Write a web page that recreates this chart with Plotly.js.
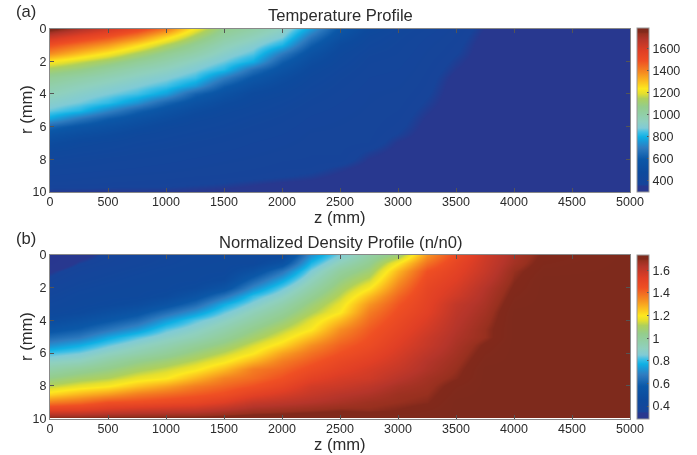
<!DOCTYPE html>
<html><head><meta charset="utf-8">
<script src="https://cdn.plot.ly/plotly-3.0.1.min.js"></script>
<style>html,body{margin:0;padding:0;background:#fff}#c{width:697px;height:455px;filter:blur(0.45px)}</style>
</head><body><div id="c"></div>
<script>
const zPositions=[0,250,500,750,1000,1250,1500,1750,2000,2250,2500,2750,3000,3250,3500,3750,4000,4250,5000];
const rPositions=[0,0.5,1,1.5,2,2.5,3,3.5,4,4.5,5,5.5,6,6.5,7,7.5,8,8.5,9,9.5,10];
const xTicks=[0,500,1000,1500,2000,2500,3000,3500,4000,4500,5000];
const yTicks=[0,2,4,6,8,10];
const tempTicks=[400,600,800,1000,1200,1400,1600];
const densTicks=[0.4,0.6,0.8,1,1.2,1.4,1.6];
const densTickText=['0.4','0.6','0.8','1','1.2','1.4','1.6'];
// each inner list: one z column, r = 0 ... 10
const tempColumns=[
[1790,1640,1500,1380,1230,1120,1040,990,950,905,860,775,630,545,490,445,420,400,385,370,345],
[1700,1560,1430,1300,1170,1080,1000,950,910,870,815,680,570,505,455,430,410,395,380,368,345],
[1620,1490,1360,1225,1110,1020,960,915,875,825,715,600,530,480,440,420,400,390,375,365,345],
[1540,1400,1260,1135,1040,970,920,880,840,745,620,540,490,445,425,408,395,385,372,363,346],
[1420,1270,1150,1050,985,930,885,840,770,630,545,495,450,430,415,400,390,380,370,362,346],
[1220,1130,1050,985,925,880,835,760,625,545,490,450,432,418,403,393,383,375,367,358,344],
[1060,1010,960,910,865,815,700,610,540,485,450,433,420,405,395,385,377,370,365,355,342],
[1000,950,900,850,790,660,580,520,470,447,430,415,403,393,385,378,372,367,362,350,340],
[930,880,810,690,610,550,500,470,445,425,412,400,392,385,378,372,367,363,358,345,338],
[760,680,610,540,495,460,440,425,412,400,390,382,377,372,370,367,365,362,353,343,336],
[575,530,480,450,435,420,408,400,392,385,380,376,373,371,369,367,365,352,345,340,335],
[470,440,425,408,398,391,385,380,376,374,372,370,369,368,366,354,347,342,339,336,333],
[420,410,402,396,390,385,380,376,372,369,366,363,360,355,347,343,340,338,336,334,332],
[395,385,378,373,369,366,363,361,358,354,350,346,343,341,339,337,336,335,334,333,332],
[370,365,361,357,352,348,343,340,339,338,337,336,335,335,334,334,333,333,332,332,332],
[347,343,340,339,338,337,336,336,335,335,334,334,334,333,333,333,332,332,332,332,331],
[335,335,334,334,334,333,333,333,333,333,332,332,332,332,332,332,331,331,331,331,331],
[332,332,332,332,332,332,331,331,331,331,331,331,331,331,331,331,331,331,331,331,331],
[330,330,330,330,330,330,330,330,330,330,330,330,330,330,330,330,330,330,330,330,330]
];
const densColumns=[
[.30,.31,.34,.36,.38,.40,.42,.44,.48,.55,.63,.72,.82,.90,.97,1.05,1.13,1.23,1.37,1.53,1.74],
[.33,.35,.37,.39,.41,.43,.44,.46,.52,.59,.67,.77,.85,.92,1.01,1.09,1.17,1.28,1.40,1.54,1.74],
[.36,.37,.39,.41,.43,.44,.455,.505,.57,.66,.76,.84,.91,.985,1.05,1.12,1.20,1.32,1.45,1.57,1.74],
[.38,.39,.41,.43,.44,.445,.48,.55,.63,.73,.83,.90,.96,1.04,1.10,1.17,1.26,1.37,1.46,1.59,1.74],
[.40,.41,.43,.44,.445,.47,.54,.64,.74,.83,.89,.95,1.01,1.08,1.14,1.20,1.31,1.40,1.48,1.60,1.74],
[.42,.43,.44,.445,.47,.54,.63,.73,.83,.89,.94,1.01,1.07,1.13,1.19,1.28,1.37,1.43,1.50,1.61,1.74],
[.43,.44,.445,.47,.54,.66,.77,.84,.90,.96,1.01,1.07,1.13,1.19,1.27,1.36,1.41,1.46,1.54,1.64,1.74],
[.44,.445,.52,.62,.71,.81,.87,.93,.98,1.04,1.09,1.15,1.20,1.28,1.37,1.40,1.45,1.52,1.60,1.67,1.74],
[.44,.53,.66,.76,.84,.90,.96,1.01,1.06,1.12,1.17,1.23,1.31,1.37,1.41,1.45,1.50,1.56,1.62,1.68,1.74],
[.72,.79,.86,.92,.97,1.02,1.07,1.11,1.16,1.20,1.27,1.34,1.39,1.43,1.47,1.52,1.57,1.60,1.64,1.69,1.74],
[.86,.93,1.00,1.05,1.09,1.13,1.17,1.20,1.27,1.34,1.38,1.42,1.45,1.49,1.52,1.56,1.59,1.63,1.66,1.70,1.74],
[.98,1.03,1.08,1.14,1.20,1.27,1.33,1.37,1.40,1.43,1.45,1.47,1.50,1.53,1.56,1.58,1.62,1.65,1.68,1.695,1.74],
[1.08,1.20,1.28,1.33,1.37,1.41,1.44,1.46,1.48,1.50,1.52,1.54,1.56,1.58,1.60,1.63,1.66,1.68,1.69,1.705,1.74],
[1.33,1.39,1.45,1.48,1.50,1.51,1.52,1.53,1.55,1.57,1.59,1.60,1.62,1.64,1.65,1.67,1.68,1.69,1.70,1.72,1.74],
[1.47,1.50,1.52,1.54,1.56,1.58,1.61,1.62,1.63,1.64,1.65,1.66,1.67,1.68,1.69,1.70,1.72,1.73,1.74,1.74,1.74],
[1.58,1.59,1.60,1.62,1.64,1.65,1.66,1.67,1.68,1.69,1.69,1.71,1.72,1.73,1.74,1.74,1.74,1.74,1.74,1.74,1.74],
[1.66,1.67,1.69,1.70,1.71,1.72,1.73,1.74,1.74,1.74,1.74,1.74,1.74,1.74,1.74,1.74,1.74,1.74,1.74,1.74,1.74],
[1.71,1.72,1.73,1.74,1.74,1.74,1.74,1.74,1.74,1.74,1.74,1.74,1.74,1.74,1.74,1.74,1.74,1.74,1.74,1.74,1.74],
[1.74,1.74,1.74,1.74,1.74,1.74,1.74,1.74,1.74,1.74,1.74,1.74,1.74,1.74,1.74,1.74,1.74,1.74,1.74,1.74,1.74]
];
const colorStops=[[0,'#28378f'],[.037,'#28388f'],[.043,'#17449a'],[.12,'#0d4a9d'],[.2,'#0b58a8'],[.27,'#2f7cc0'],[.31,'#1a9ad8'],[.335,'#0fb0e4'],[.365,'#3fbfe6'],[.39,'#80cbd6'],[.43,'#8fd0bf'],[.52,'#94cd8c'],[.57,'#aed05c'],[.6,'#e4df2e'],[.63,'#fde81f'],[.68,'#fbb81f'],[.73,'#f58a20'],[.8,'#ef4f23'],[.86,'#e03f25'],[.93,'#b5352a'],[.965,'#98301f'],[.975,'#82291b'],[1,'#7e2a1c']];
const transpose=m=>m[0].map((_,i)=>m.map(c=>c[i]));
const W=697,H=455,txt='#2b2b2b',fontFam='"Liberation Sans",Arial,sans-serif';
const cb=(top,bot,vals,text)=>({x:637/W,xanchor:'left',y:1-bot/H,yanchor:'bottom',len:(bot-top)/H,lenmode:'fraction',thickness:12,thicknessmode:'pixels',
 outlinecolor:'#999',outlinewidth:1,tickmode:'array',tickvals:vals,ticktext:text,ticks:'inside',ticklen:2,tickcolor:'#555',tickfont:{size:12.5,color:txt,family:fontFam},xpad:0,ypad:0});
const traces=[
{type:'heatmap',x:zPositions,y:rPositions,z:transpose(tempColumns),zmin:292,zmax:1790,zsmooth:'best',colorscale:colorStops,colorbar:cb(28.5,192,tempTicks,tempTicks.map(String)),xaxis:'x',yaxis:'y'},
{type:'heatmap',x:zPositions,y:rPositions,z:transpose(densColumns),zmin:.29,zmax:1.74,zsmooth:'best',colorscale:colorStops,colorbar:cb(255,418.5,densTicks,densTickText),xaxis:'x2',yaxis:'y2'}
];
const xa=(anchor)=>({domain:[50/W,630/W],range:[0,5000],anchor,tickmode:'array',tickvals:xTicks,ticks:'inside',ticklen:4,tickcolor:'#555',linecolor:'#888',linewidth:1,mirror:'allticks',showgrid:false,zeroline:false,ticklabelstandoff:-2,tickfont:{size:12.5,color:txt,family:fontFam}});
const ya=(anchor,top,bot)=>({domain:[1-bot/H,1-top/H],range:[10,0],anchor,tickmode:'array',tickvals:yTicks,ticks:'inside',ticklen:4,tickcolor:'#555',linecolor:'#888',linewidth:1,mirror:'allticks',showgrid:false,zeroline:false,tickfont:{size:12.5,color:txt,family:fontFam}});
const ann=(t,x,y,size,anchor,angle)=>({text:t,xref:'paper',yref:'paper',x:x/W,y:1-y/H,xanchor:anchor,yanchor:'middle',showarrow:false,textangle:angle||0,font:{size,color:txt,family:fontFam}});
const layout={width:W,height:H,margin:{l:0,r:0,t:0,b:0},paper_bgcolor:'#fff',plot_bgcolor:'#fff',showlegend:false,
 xaxis:xa('y'),yaxis:ya('x',28.5,192),xaxis2:xa('y2'),yaxis2:ya('x2',255,418.5),
 annotations:[ann('Temperature Profile',340,15.5,16.6,'center'),ann('Normalized Density Profile (n/n0)',340,242,16.6,'center'),ann('(a)',14,11,16.6,'left'),ann('(b)',14,238,16.6,'left'),
 ann('z (mm)',340,217,16.6,'center'),ann('z (mm)',340,444,16.6,'center'),ann('r (mm)',26,110,16.6,'center',-90),ann('r (mm)',26,337,16.6,'center',-90)]};
Plotly.newPlot('c',traces,layout,{displayModeBar:false,staticPlot:true});
</script></body></html>
